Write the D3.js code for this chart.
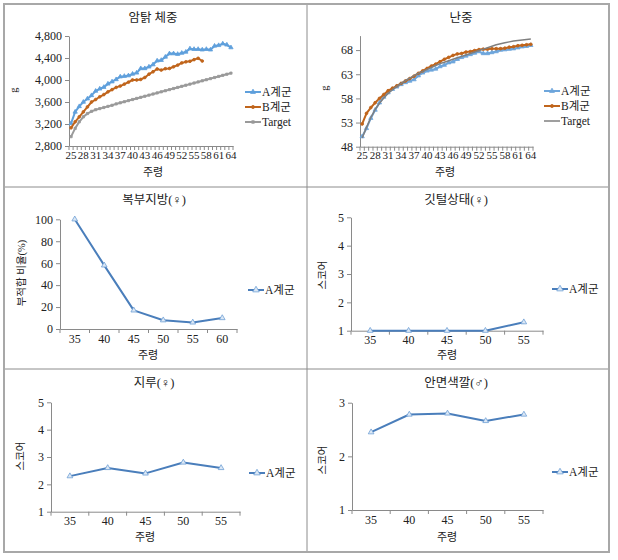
<!DOCTYPE html>
<html><head><meta charset="utf-8">
<script src="https://cdn.jsdelivr.net/npm/d3@7"></script>
<style>
body{margin:0;background:#fff}
text{font-family:"Liberation Serif","Noto Sans CJK KR",serif;fill:#222}
</style></head><body>
<svg id="c" width="618" height="560"></svg>
<script>
// ---------- DATA ----------
const weeks = [25,26,27,28,29,30,31,32,33,34,35,36,37,38,39,40,41,42,43,44,45,46,47,48,49,50,51,52,53,54,55,56,57,58,59,60,61,62,63,64];
const weekTickLabels = [25,28,31,34,37,40,43,46,49,52,55,58,61,64];
const seriesNames = ["A계군","B계군","Target"];

// 암탉 체중 (g)
const bwA = [3210,3420,3520,3600,3660,3720,3800,3840,3870,3930,3970,4010,4060,4070,4080,4110,4130,4210,4210,4240,4280,4350,4360,4420,4480,4480,4470,4490,4510,4570,4560,4560,4550,4560,4550,4620,4630,4660,4640,4590];
const bwB = [3130,3240,3330,3420,3510,3600,3645,3695,3735,3785,3825,3865,3890,3925,3960,4000,4000,4010,4045,4105,4150,4200,4180,4205,4210,4240,4270,4310,4330,4340,4370,4395,4345];
const bwTarget = [2970,3120,3240,3330,3390,3430,3460,3480,3500,3520,3540,3565,3585,3605,3625,3645,3665,3685,3705,3725,3745,3765,3785,3805,3825,3845,3865,3885,3905,3925,3945,3965,3985,4005,4025,4045,4065,4085,4105,4125];
const bwTicks = [2800,3200,3600,4000,4400,4800];

// 난중 (g)
const ewA = [50.1,51.8,53.9,55.6,57.1,58.3,59.2,59.9,60.4,60.9,61.3,61.6,61.9,62.7,63.3,63.7,63.9,64.1,64.6,64.9,65.4,65.6,66.1,66.5,66.8,67.1,67.4,67.7,67.3,67.3,67.5,67.7,68.0,68.1,68.2,68.3,68.5,68.7,68.8,69.0];
const ewB = [52.7,54.9,56.1,57.1,58.0,58.8,59.6,60.1,60.6,61.1,61.6,62.1,62.6,63.2,63.7,64.2,64.7,65.1,65.6,66.1,66.5,66.9,67.2,67.3,67.6,67.7,67.9,68.1,68.2,68.2,68.3,68.3,68.3,68.4,68.6,68.7,68.9,69.0,69.1,69.2];
const ewTarget = [49.8,52.0,54.0,55.7,57.0,58.1,59.0,59.8,60.5,61.1,61.7,62.2,62.7,63.2,63.6,64.0,64.4,64.8,65.2,65.5,65.8,66.1,66.4,66.7,67.0,67.3,67.6,67.9,68.2,68.5,68.8,69.1,69.3,69.5,69.7,69.9,70.0,70.1,70.2,70.3];
const ewTicks = [48,53,58,63,68];

// 복부지방(♀)
const fatWeeks = [35,40,45,50,55,60];
const fatA = [100,58,17,8,6,10];
const fatTicks = [0,20,40,60,80,100];

// 깃털상태(♀)
const scoreWeeks = [35,40,45,50,55];
const featherA = [1,1,1,1,1.3];
const featherTicks = [1,2,3,4,5];

// 지루(♀)
const dirtA = [2.3,2.6,2.4,2.8,2.6];
const dirtTicks = [1,2,3,4,5];

// 안면색깔(♂)
const faceA = [2.45,2.78,2.8,2.66,2.78];
const faceTicks = [1,2,3];

// ---------- DRAW ----------
const svg = d3.select("#c");
const AX = "#8a8a8a";
const blueTop = "#5fa0dc", orange = "#c0651c", gray = "#9a9a9a", grayT = "#7f7f7f", blue = "#4a7ebb";

// table borders
const cols = [4,307,609], rows = [4,187,369,552];
svg.append("g").selectAll("line").data([cols[1]]).join("line")
  .attr("x1",d=>d).attr("x2",d=>d).attr("y1",rows[0]).attr("y2",rows[3]).attr("stroke","#8c8c8c");
svg.append("g").selectAll("line").data([rows[1],rows[2]]).join("line")
  .attr("y1",d=>d).attr("y2",d=>d).attr("x1",cols[0]).attr("x2",cols[2]).attr("stroke","#8c8c8c");
svg.append("rect").attr("x",cols[0]).attr("y",rows[0]).attr("width",cols[2]-cols[0]).attr("height",rows[3]-rows[0])
  .attr("fill","none").attr("stroke","#a8a8a8").attr("stroke-width",2);

function panel(cfg){
  const g = svg.append("g");
  const x = d3.scaleBand().domain(cfg.cats).range(cfg.xr).paddingInner(0).paddingOuter(0);
  const y = d3.scaleLinear().domain(cfg.yd).range(cfg.yr);
  const cx = c => x(c) + x.bandwidth()/2;

  g.append("text").attr("x",cfg.title[1]).attr("y",cfg.title[2]).attr("text-anchor","middle")
    .attr("font-size",12.5).text(cfg.title[0]);

  const ya = g.append("g").attr("transform",`translate(${cfg.xr[0]},0)`)
    .call(d3.axisLeft(y).tickValues(cfg.yTicks).tickSize(4).tickSizeOuter(0).tickPadding(3).tickFormat(cfg.yFmt||(d=>d)));
  ya.select(".domain").attr("stroke",AX);
  ya.selectAll(".tick line").attr("stroke",AX);
  ya.selectAll(".tick text").attr("font-size",cfg.yFont||12).attr("fill","#222")
    .attr("font-family","Liberation Serif, serif");

  const xa = g.append("g").attr("transform",`translate(0,${cfg.yr[0]})`)
    .call(d3.axisBottom(x).tickValues(cfg.xLabels).tickSize(0).tickSizeOuter(0).tickPadding(cfg.xPad||5));
  xa.select(".domain").attr("stroke",AX);
  xa.selectAll(".tick text").attr("font-size",cfg.xFont||12).attr("fill","#222")
    .attr("font-family","Liberation Serif, serif");
  const bounds = cfg.cats.map(c=>x(c)).concat([x(cfg.cats[cfg.cats.length-1])+x.bandwidth()]);
  g.append("g").selectAll("line").data(bounds).join("line")
    .attr("x1",d=>d).attr("x2",d=>d).attr("y1",cfg.yr[0]).attr("y2",cfg.yr[0]+4).attr("stroke",AX);

  g.append("text").attr("x",cfg.xTitle[0]).attr("y",cfg.xTitle[1]).attr("text-anchor","middle")
    .attr("font-size",11).text("주령");
  g.append("text").attr("transform",`translate(${cfg.yTitle[1]},${cfg.yTitle[2]}) rotate(-90)`)
    .attr("text-anchor","middle").attr("font-size",cfg.yTitleSize||10.5).attr("fill",cfg.yTitleColor||"#333")
    .text(cfg.yTitle[0]);

  cfg.series.forEach((s,si)=>{
    const pts = s.values.map((v,i)=>[cx(cfg.cats[i]), y(v)]);
    g.append("path").datum(pts).attr("d",d3.line()).attr("fill","none")
      .attr("stroke",s.color).attr("stroke-width",s.width||2).attr("stroke-linejoin","round");
    if(s.symbol){
      g.append("g").selectAll("path").data(pts).join("path")
        .attr("transform",d=>`translate(${d[0]},${d[1]})`)
        .attr("d",d3.symbol().type(s.symbol).size(s.msize||12))
        .attr("fill",s.mfill||s.color).attr("stroke",s.mstroke||s.color).attr("stroke-width",0.8);
    }
    const ly = cfg.legend[1] + si*cfg.legend[2];
    const lx = cfg.legend[0];
    g.append("line").attr("x1",lx).attr("x2",lx+16).attr("y1",ly).attr("y2",ly)
      .attr("stroke",s.color).attr("stroke-width",s.width||2);
    if(s.symbol){
      g.append("path").attr("transform",`translate(${lx+8},${ly})`)
        .attr("d",d3.symbol().type(s.symbol).size((s.msize||12)*1.3))
        .attr("fill",s.mfill||s.color).attr("stroke",s.mstroke||s.color).attr("stroke-width",0.8);
    }
    g.append("text").attr("x",lx+17).attr("y",ly+4).attr("font-size",11.5).text(s.name);
  });
}

panel({
  title:["암탉 체중",153,22], cats:weeks, xr:[69,233], yd:[2800,4800], yr:[146,36],
  yTicks:bwTicks, yFmt:d3.format(","), xLabels:weekTickLabels, xFont:11, xPad:5,
  xTitle:[153,176], yTitle:["g",17,90],
  legend:[245,92,15],
  series:[
    {name:seriesNames[0], values:bwA, color:blueTop, symbol:d3.symbolTriangle, msize:8},
    {name:seriesNames[1], values:bwB, color:orange, symbol:d3.symbolCircle, msize:6},
    {name:seriesNames[2], values:bwTarget, color:gray, symbol:d3.symbolSquare, msize:5}
  ]
});

panel({
  title:["난중",461,22], cats:weeks, xr:[360,533], yd:[48,71], yr:[146.7,35.6],
  yTicks:ewTicks, xLabels:weekTickLabels, xFont:11, xPad:5,
  xTitle:[445,176], yTitle:["g",328,88],
  legend:[544,91,15],
  series:[
    {name:seriesNames[0], values:ewA, color:"#6ea6dc", symbol:d3.symbolTriangle, msize:8},
    {name:seriesNames[1], values:ewB, color:orange, symbol:d3.symbolCircle, msize:6},
    {name:seriesNames[2], values:ewTarget, color:grayT, width:1.5}
  ]
});

panel({
  title:["복부지방(♀)",154,204], cats:fatWeeks, xr:[60,237], yd:[0,100], yr:[329,219.3],
  yTicks:fatTicks, xLabels:fatWeeks, xPad:5,
  xTitle:[148,359], yTitle:["부적합 비율(%)",25,273], yTitleColor:"#555",
  legend:[248,290,15],
  series:[{name:seriesNames[0], values:fatA, color:blue, symbol:d3.symbolTriangle, msize:14, mfill:"#dce8f5", mstroke:"#6f9fd6"}]
});

panel({
  title:["깃털상태(♀)",456,204], cats:scoreWeeks, xr:[351,543], yd:[1,5], yr:[330.7,217.3],
  yTicks:featherTicks, xLabels:scoreWeeks, xPad:5,
  xTitle:[447,359], yTitle:["스코어",326,275], yTitleColor:"#555",
  legend:[552,289,15],
  series:[{name:seriesNames[0], values:featherA, color:blue, symbol:d3.symbolTriangle, msize:14, mfill:"#dce8f5", mstroke:"#6f9fd6"}]
});

panel({
  title:["지루(♀)",154,387], cats:scoreWeeks, xr:[51,240], yd:[1,5], yr:[511.7,402.3],
  yTicks:dirtTicks, xLabels:scoreWeeks, xPad:5,
  xTitle:[145,541], yTitle:["스코어",24,456], yTitleColor:"#555",
  legend:[249,473,15],
  series:[{name:seriesNames[0], values:dirtA, color:blue, symbol:d3.symbolTriangle, msize:14, mfill:"#dce8f5", mstroke:"#6f9fd6"}]
});

panel({
  title:["안면색깔(♂)",456,387], cats:scoreWeeks, xr:[352,543], yd:[1,3], yr:[510,402.7],
  yTicks:faceTicks, xLabels:scoreWeeks, xPad:5,
  xTitle:[447,541], yTitle:["스코어",326,460], yTitleColor:"#555",
  legend:[552,472,15],
  series:[{name:seriesNames[0], values:faceA, color:blue, symbol:d3.symbolTriangle, msize:14, mfill:"#dce8f5", mstroke:"#6f9fd6"}]
});
</script>
</body></html>
